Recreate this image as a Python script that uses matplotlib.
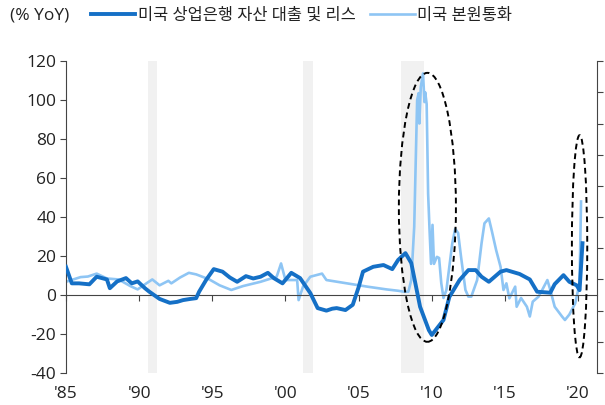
import matplotlib.pyplot as plt
from matplotlib.patches import Ellipse

plt.rcParams['font.family'] = ['Open Sans', 'Noto Sans CJK KR', 'DejaVu Sans']
plt.rcParams['axes.unicode_minus'] = False

# 미국 상업은행 자산 대출 및 리스 (% YoY)
loan_yr = [1985.0, 1985.4, 1985.9, 1986.6, 1987.1, 1987.8, 1988.0, 1988.5, 1989.1, 1989.5,
           1989.9, 1990.4, 1990.7, 1991.4, 1992.1, 1992.6, 1993.0, 1993.5, 1993.9, 1994.1,
           1994.6, 1995.1, 1995.7, 1996.2, 1996.7, 1997.3, 1997.8, 1998.3, 1998.8, 1999.2,
           1999.8, 2000.4, 2001.0, 2001.7, 2002.2, 2002.8, 2003.2, 2003.5, 2004.1, 2004.6,
           2005.0, 2005.3, 2006.0, 2006.7, 2007.3, 2007.7, 2008.2, 2008.6, 2009.2, 2009.8,
           2010.0, 2010.8, 2011.2, 2011.9, 2012.5, 2013.0, 2013.4, 2013.9, 2014.7, 2015.1,
           2016.0, 2016.7, 2017.2, 2018.1, 2018.4, 2019.0, 2019.4, 2019.9, 2020.1, 2020.3]
loan = [14.5, 6, 6, 5.5, 9.4, 8, 3.5, 7, 8.7, 6,
        7, 3.5, 1.7, -2, -4, -3.5, -2.6, -2, -1.6, 1.7,
        8, 13.3, 12, 9, 6.8, 9.7, 8.5, 9.4, 11.4, 8.7,
        6, 11.4, 8.7, 1, -6.7, -8, -7, -6.7, -7.7, -5,
        4, 12, 14.5, 15.4, 13.3, 18, 21.5, 16.4, -6, -18,
        -20.5, -12.8, -1, 7.7, 12.8, 12.8, 9.4, 6.8, 12, 12.8,
        10.8, 8, 1.7, 1.2, 5.6, 10.2, 6.8, 5, 2.5, 26.6]

# 미국 본원통화 (% YoY)
base_yr = [1985.0, 1985.5, 1986.0, 1986.5, 1987.1, 1987.8, 1988.6, 1989.4, 1989.9, 1990.5,
           1990.9, 1991.4, 1992.0, 1992.2, 1992.8, 1993.4, 1993.9, 1994.8, 1995.5, 1996.3,
           1997.1, 1998.3, 1999.4, 1999.7, 2000.0, 2000.8, 2000.9, 2001.2, 2001.7, 2002.5,
           2002.8, 2004.2, 2005.6, 2006.9, 2007.7, 2008.1, 2008.4, 2008.6, 2008.8, 2009.0,
           2009.1, 2009.15, 2009.25, 2009.4, 2009.5, 2009.55, 2009.65, 2009.75, 2009.85, 2009.95,
           2010.05, 2010.15, 2010.35, 2010.5, 2010.65, 2010.8, 2011.0, 2011.4, 2011.6, 2011.8,
           2012.0, 2012.3, 2012.5, 2012.7, 2013.1, 2013.4, 2013.6, 2013.9, 2014.1, 2014.4,
           2014.7, 2014.9, 2015.1, 2015.3, 2015.7, 2015.8, 2016.1, 2016.5, 2016.7, 2016.9,
           2017.3, 2017.6, 2017.9, 2018.1, 2018.4, 2018.9, 2019.1, 2019.4, 2019.8, 2020.1,
           2020.2]
base = [6.8, 8, 9.2, 9.5, 11, 8.5, 8, 4.6, 2.9, 6,
        8, 5, 7.3, 6, 9, 11.4, 10.6, 8, 5, 2.6,
        4.6, 6.8, 9.4, 16.2, 7.7, 7.7, -2.6, 4.3, 9.4, 11,
        7.7, 6, 4.3, 2.9, 2.2, 1.7, 1.7, 7.7, 35, 100,
        103.6, 88, 106.8, 113.7, 99, 104, 98, 52, 33, 16,
        36, 16, 19.6, 19, 6, -1.5, 2.6, 26.5, 34, 31.8,
        19.6, 2.6, -0.8, -0.8, 7.7, 26.5, 36.8, 39.3, 33, 23,
        14.5, 2.6, 6, -1.7, 4.3, -6, -1.5, -6, -11, -3.4,
        -0.8, 3.4, 7.7, 2.6, -6, -11, -12.8, -10, -4.3, 6,
        48]

# 경기침체 구간
recessions = [(1990.6, 1991.2), (2001.2, 2001.85), (2007.9, 2009.45)]

xticks = [1985, 1990, 1995, 2000, 2005, 2010, 2015, 2020]
xlabels = ["'85", "'90", "'95", "'00", "'05", "'10", "'15", "'20"]

fig = plt.figure(figsize=(6.05, 4.05), dpi=100)
ax = fig.add_axes([0.109, 0.079, 0.878, 0.770])

for a, b in recessions:
    ax.axvspan(a, b, color='#f1f1f1', lw=0, zorder=0)

ax.plot(loan_yr, loan, color='#1570c6', lw=2.8, label='미국 상업은행 자산 대출 및 리스', zorder=3)
ax.plot(base_yr, base, color='#8ec5f4', lw=1.9, label='미국 본원통화', zorder=2)

# 강조 타원
ax.add_patch(Ellipse((2009.7, 45), 3.9, 138, fill=False, ls=(0, (3, 2)), lw=1.4, color='black', zorder=4))
ax.add_patch(Ellipse((2020.1, 25), 1.05, 114, fill=False, ls=(0, (3, 2)), lw=1.4, color='black', zorder=4))

ax.set_xlim(1985, 2021.3)
ax.set_ylim(-40, 120)
ax.set_yticks(range(-40, 121, 20))
ax.tick_params(axis='y', labelsize=12.5, length=4, color='#444444', pad=3, labelcolor='#222222')

# x축은 0선에 눈금, 라벨은 아래쪽
ax.spines['bottom'].set_position(('data', 0))
ax.spines['bottom'].set_color('#444444')
ax.spines['top'].set_visible(False)
ax.spines['right'].set_visible(False)
ax.spines['left'].set_color('#444444')
ax.set_xticks(xticks)
ax.tick_params(axis='x', length=4, color='#444444', labelbottom=False)

sec = ax.secondary_xaxis('bottom')
sec.spines['bottom'].set_visible(False)
sec.set_xticks(xticks)
sec.set_xticklabels(xlabels)
sec.tick_params(axis='x', length=0, labelsize=12.5, pad=9, labelcolor='#222222')

ax2 = ax.twinx()
ax2.set_ylim(0, 10)
ax2.set_yticks(range(0, 11))
ax2.tick_params(axis='y', length=4, color='#444444', labelright=False)
for s in ['top', 'left', 'bottom']:
    ax2.spines[s].set_visible(False)
ax2.spines['right'].set_color('#444444')

fig.text(0.017, 0.962, '(% YoY)', fontsize=12.5, va='center', color='#222222')
ax.legend(loc='center left', bbox_to_anchor=(0.035, 1.145), ncol=2, frameon=False,
          fontsize=11.8, handlelength=2.7, handletextpad=0.15, columnspacing=0.9,
          borderaxespad=0, labelcolor='#222222')

fig.savefig('out.png', dpi=100)
